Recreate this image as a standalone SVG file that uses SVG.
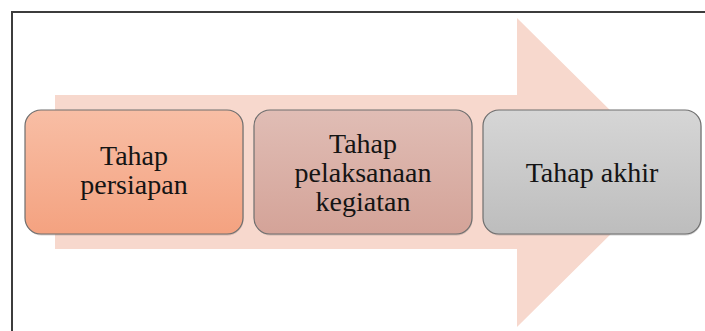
<svg xmlns="http://www.w3.org/2000/svg" width="705" height="331" viewBox="0 0 705 331">
<defs>
<style>
.box{stroke:#6e6e6e;stroke-width:1.2}
.t{font-size:28px;fill:#141414;text-anchor:middle}
</style>
<linearGradient id="g1" x1="0" y1="0" x2="0" y2="1"><stop offset="0" stop-color="#f8bea5"/><stop offset="1" stop-color="#f4a280"/></linearGradient>
<linearGradient id="g2" x1="0" y1="0" x2="0" y2="1"><stop offset="0" stop-color="#e0bdb5"/><stop offset="1" stop-color="#d4a398"/></linearGradient>
<linearGradient id="g3" x1="0" y1="0" x2="0" y2="1"><stop offset="0" stop-color="#d6d6d6"/><stop offset="1" stop-color="#bdbdbd"/></linearGradient>
</defs>
<rect width="705" height="331" fill="#ffffff"/>
<path d="M12 331 V12 H705" fill="none" stroke="#3c3c3c" stroke-width="2"/>
<g id="arrow">
<polygon points="55,95 517,95 517,18 673,172.5 517,327 517,249 55,249" fill="#f7d8cd"/>
</g>
<g id="connectors"></g>
<g font-family="'Liberation Serif', 'Times New Roman', 'DejaVu Serif', serif">
<g id="node1">
<rect x="25.5" y="111.5" width="218" height="124" rx="16" fill="#9a7a70" opacity="0.35"/>
<rect class="box" x="25" y="110" width="218" height="124" rx="16" fill="url(#g1)"/>
<text class="t" x="134" y="165">Tahap</text>
<text class="t" x="134" y="194">persiapan</text>
</g>
<g id="node2">
<rect x="254.5" y="111.5" width="218" height="124" rx="16" fill="#8a7a75" opacity="0.35"/>
<rect class="box" x="254" y="110" width="218" height="124" rx="16" fill="url(#g2)"/>
<text class="t" x="363" y="153">Tahap</text>
<text class="t" x="363" y="182">pelaksanaan</text>
<text class="t" x="363" y="211">kegiatan</text>
</g>
<g id="node3">
<rect x="483.5" y="111.5" width="218" height="124" rx="16" fill="#7a7a7a" opacity="0.35"/>
<rect class="box" x="483" y="110" width="218" height="124" rx="16" fill="url(#g3)"/>
<text class="t" x="592" y="182">Tahap akhir</text>
</g>
</g>
</svg>
